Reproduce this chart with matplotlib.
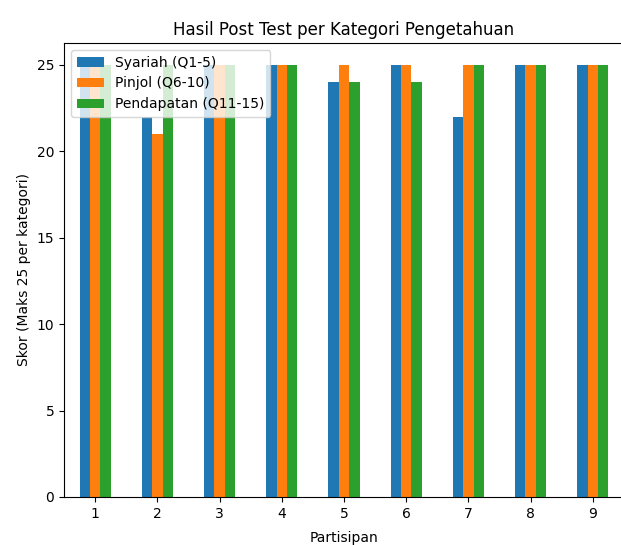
import matplotlib
matplotlib.use("Agg")
import matplotlib.pyplot as plt
import numpy as np
import pandas as pd

participants = [1, 2, 3, 4, 5, 6, 7, 8, 9]
syariah = [25, 22, 25, 25, 24, 25, 22, 25, 25]
pinjol = [25, 21, 25, 25, 25, 25, 25, 25, 25]
pendapatan = [25, 25, 25, 25, 24, 24, 25, 25, 25]

df = pd.DataFrame({
    "Syariah (Q1-5)": syariah,
    "Pinjol (Q6-10)": pinjol,
    "Pendapatan (Q11-15)": pendapatan,
}, index=participants)

fig = plt.figure(figsize=(6.21, 5.45), dpi=100)
ax = fig.add_axes([64/621, 48/545, 560/621, 454/545])
df.plot(kind="bar", ax=ax, rot=0)
ax.set_title("Hasil Post Test per Kategori Pengetahuan", fontsize=12)
ax.set_xlabel("Partisipan", labelpad=7.5)
ax.set_ylabel("Skor (Maks 25 per kategori)")
ax.legend(loc="upper left")
fig.savefig("out.png", dpi=100)
